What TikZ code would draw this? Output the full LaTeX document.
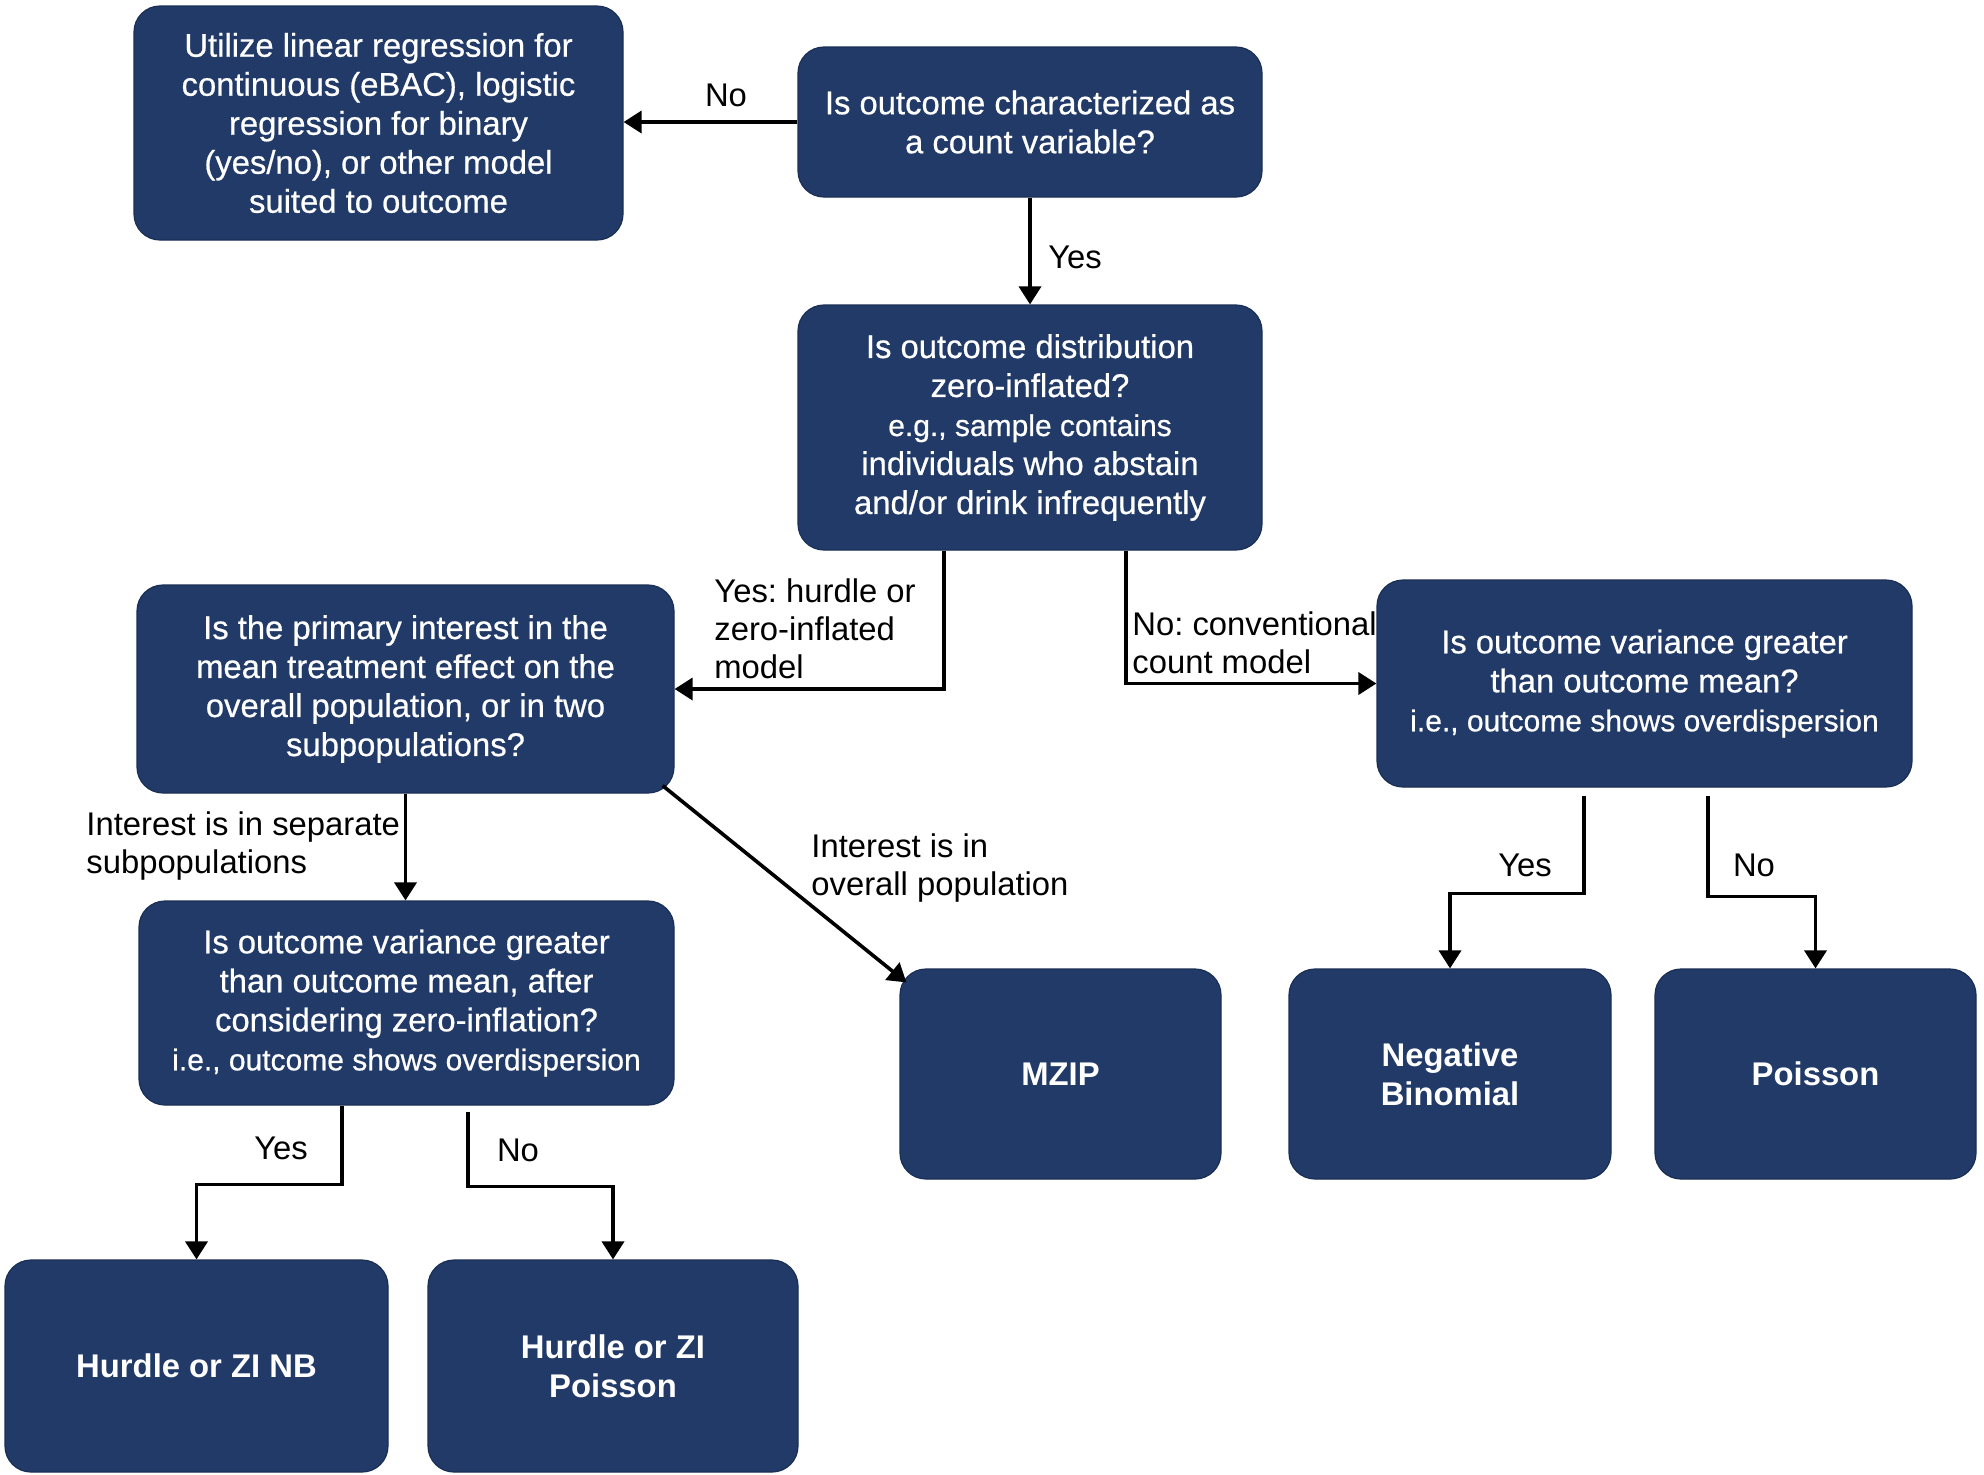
\documentclass[tikz,border=0pt]{standalone}
\usepackage{fontspec}
\setmainfont{Liberation Sans}
\newfontfamily\boxfont{Liberation Sans}[FakeBold=0.6]
\usetikzlibrary{arrows.meta}
\definecolor{navy}{RGB}{33,58,104}
\definecolor{navyedge}{RGB}{26,46,84}
\frenchspacing
\begin{document}
\begin{tikzpicture}[x=0.5pt,y=-0.5pt,
  box/.style={rectangle, rounded corners=13pt, fill=navy, draw=navyedge, line width=0.6pt, text=white, align=center, inner sep=0pt, font=\boxfont\fontsize{16.4}{19.5}\selectfont},
  term/.style={box, font=\bfseries\fontsize{16.4}{19.5}\selectfont},
  arr/.style={line width=1.8pt, -{Triangle[length=9pt,width=11pt]}},
  lab/.style={font=\fontsize{16.4}{19}\selectfont, align=left, inner sep=0pt},
]
\useasboundingbox (0,0) rectangle (1984,1474);

\node[box, minimum width=244.5pt, minimum height=117pt] (A) at (378.5,123) {Utilize linear regression for\\continuous (eBAC), logistic\\regression for binary\\(yes/no), or other model\\suited to outcome};
\node[box, minimum width=232pt, minimum height=75pt] (B) at (1030,122) {Is outcome characterized as\\a count variable?};
\node[box, minimum width=232pt, minimum height=122.5pt] (C) at (1030,427.5) {\fontsize{16.4}{18.7}\selectfont Is outcome distribution\\zero-inflated?\\\fontsize{15}{18.7}\selectfont e.g., sample contains\\individuals who abstain\\and/or drink infrequently};
\node[box, minimum width=268.5pt, minimum height=104pt] (D) at (405.5,689) {Is the primary interest in the\\mean treatment effect on the\\overall population, or in two\\subpopulations?};
\node[box, minimum width=267.5pt, minimum height=103.5pt] (E) at (1644.5,683.5) {Is outcome variance greater\\than outcome mean?\\\fontsize{15}{18.7}\selectfont i.e., outcome shows overdispersion};
\node[box, minimum width=267.5pt, minimum height=102pt] (F) at (406.5,1003) {Is outcome variance greater\\than outcome mean, after\\considering zero-inflation?\\\fontsize{15}{19.5}\selectfont i.e., outcome shows overdispersion};
\node[term, minimum width=160.5pt, minimum height=105pt] (G) at (1060.5,1074) {MZIP};
\node[term, minimum width=161pt, minimum height=105pt] (H) at (1450,1074) {Negative\\Binomial};
\node[term, minimum width=160.5pt, minimum height=105pt] (I) at (1815.5,1074) {Poisson};
\node[term, minimum width=191.5pt, minimum height=106pt] (J) at (196.5,1366) {Hurdle or ZI NB};
\node[term, minimum width=185pt, minimum height=106pt] (K) at (613,1366) {Hurdle or ZI\\Poisson};

\draw[arr] (B.west) -- (B.west -| A.east);
\draw[arr] (B.south) -- (C.north);
\draw[arr] ([xshift=-43pt]C.south) |- (D.east);
\draw[arr] ([xshift=48pt]C.south) |- (E.west);
\draw[arr] (D.south) -- (D.south |- F.north);
\draw[arr] ([shift={(-6pt,4pt)}]D.south east) -- ([shift={(3.5pt,-7pt)}]G.north west);
\draw[arr] ([xshift=-32.25pt]F.south) -- ++(0,79) -| (J.north);
\draw[arr] ([xshift=30.75pt,yshift=-3pt]F.south) -- ++(0,75) -| (K.north);
\draw[arr] ([xshift=-30.25pt,yshift=-4pt]E.south) -- ++(0,98) -| (H.north);
\draw[arr] ([xshift=31.75pt,yshift=-4pt]E.south) -- ++(0,101) -| (I.north);

\node[lab] (l1) at (726,95) {No};
\node[lab] (l2) at (1075,257) {Yes};
\node[lab, anchor=west] (l3) at (714,629) {Yes: hurdle or\\zero-inflated\\model};
\node[lab, anchor=west] (l4) at (1132,643) {No: conventional\\count model};
\node[lab, anchor=west] (l5) at (86,846) {Interest is in separate\\subpopulations};
\node[lab, anchor=west] (l6) at (811,868) {Interest is in\\overall population};
\node[lab] (l7) at (281,1148) {Yes};
\node[lab] (l8) at (518,1150) {No};
\node[lab] (l9) at (1525,865) {Yes};
\node[lab] (l10) at (1754,865) {No};
\end{tikzpicture}
\end{document}
